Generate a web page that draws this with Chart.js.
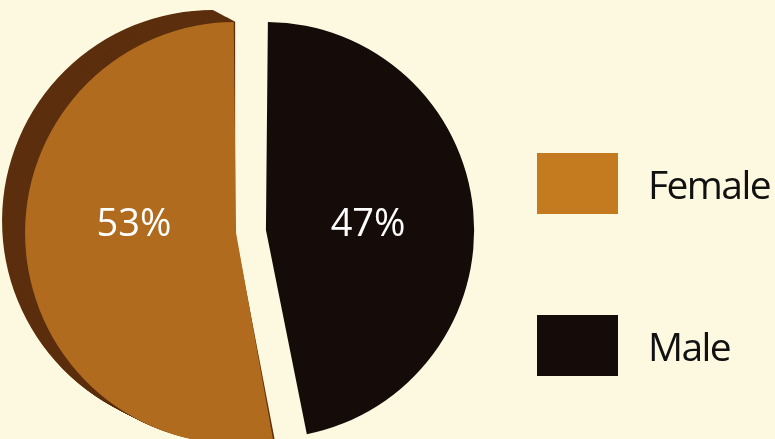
<!DOCTYPE html>
<html lang="en">
<head>
    <meta charset="UTF-8">
    <script src="https://cdn.jsdelivr.net/npm/chart.js"></script>
    <title>Female / Male</title>
    <style>
        html, body { margin: 0; padding: 0; background: #fdf9e0; overflow: hidden; }
        .wrap { position: relative; width: 775px; height: 439px; }
        #pieCanvas { position: absolute; left: 0; top: 0; }
        .legend { position: absolute; left: 537px; top: 152px; font-family: "Open Sans", sans-serif; }
        .item { display: flex; align-items: center; height: 62px; margin-bottom: 100px; white-space: nowrap; }
        .box { width: 81px; height: 61px; margin-right: 30px; }
        .lbl { font-size: 39px; color: #111; letter-spacing: -1.6px; }
    </style>
</head>
<body>
<div class="wrap">
    <canvas id="pieCanvas" width="775" height="439"></canvas>
    <div class="legend" id="legend"></div>
</div>

<script>
    // dados
    const categorias = ['Female', 'Male'];
    const valores = [53, 47];
    const rotulos = ['53%', '47%'];
    const cores = ['#b06b1e', '#150c09'];
    const coresLegenda = ['#c47a1e', '#150c09'];
    const corSombra = '#5c2f0e';

    // legenda em html
    const legenda = document.getElementById('legend');
    for (let i = 0; i < categorias.length; i++) {
        legenda.innerHTML += '<div class="item"><div class="box" style="background:' + coresLegenda[i] +
            '"></div><span class="lbl">' + categorias[i] + '</span></div>';
    }

    const total = valores.reduce((a, b) => a + b, 0);

    // sombra 3D da fatia Female (esquerda)
    const sombra = {
        id: 'sombra',
        beforeDatasetsDraw(chart) {
            const ctx = chart.ctx;
            const arc = chart.getDatasetMeta(0).data[0];
            const p = arc.getProps(['x', 'y', 'startAngle', 'endAngle', 'outerRadius', 'circumference']);
            const off = (arc.options.offset || 0) / 4;
            const meio = (p.startAngle + p.endAngle) / 2;
            const fix = 1 - Math.sin(Math.min(Math.PI, p.circumference));
            const r = p.outerRadius + off * fix;
            const cx = p.x + Math.cos(meio) * off;
            const cy = p.y + Math.sin(meio) * off;
            ctx.save();
            ctx.fillStyle = corSombra;
            const passos = 25;
            for (let i = passos; i >= 1; i--) {
                const dx = -23 * i / passos, dy = -12 * i / passos;
                ctx.beginPath();
                ctx.moveTo(cx + dx, cy + dy);
                ctx.arc(cx + dx, cy + dy, r, p.startAngle, p.endAngle);
                ctx.closePath();
                ctx.fill();
            }
            ctx.restore();
        }
    };

    // porcentagens dentro das fatias
    const porcentagens = {
        id: 'porcentagens',
        afterDatasetsDraw(chart) {
            const ctx = chart.ctx;
            const meta = chart.getDatasetMeta(0);
            ctx.save();
            ctx.fillStyle = '#ffffff';
            ctx.font = '38px "Open Sans", sans-serif';
            ctx.textAlign = 'center';
            ctx.textBaseline = 'middle';
            meta.data.forEach((arc, i) => {
                const p = arc.getProps(['x', 'y', 'startAngle', 'endAngle', 'outerRadius']);
                const meio = (p.startAngle + p.endAngle) / 2;
                const d = p.outerRadius * 0.6;
                ctx.fillText(rotulos[i], p.x + Math.cos(meio) * d, p.y - 6);
            });
            ctx.restore();
        }
    };

    const dados = {
        labels: categorias,
        datasets: [{
            data: valores,
            backgroundColor: cores,
            borderWidth: 0,
            offset: 60,
            hoverOffset: 0,
            clip: false
        }]
    };

    const config = {
        type: 'pie',
        data: dados,
        options: {
            responsive: false,
            animation: false,
            radius: 196,
            rotation: 360 * valores[1] / total,
            layout: { padding: { left: 0, right: 273, top: 24, bottom: 0 } },
            plugins: {
                legend: { display: false },
                tooltip: { enabled: false }
            }
        },
        plugins: [sombra, porcentagens]
    };

    let grafico = new Chart(document.getElementById('pieCanvas'), config);
</script>
</body>
</html>
